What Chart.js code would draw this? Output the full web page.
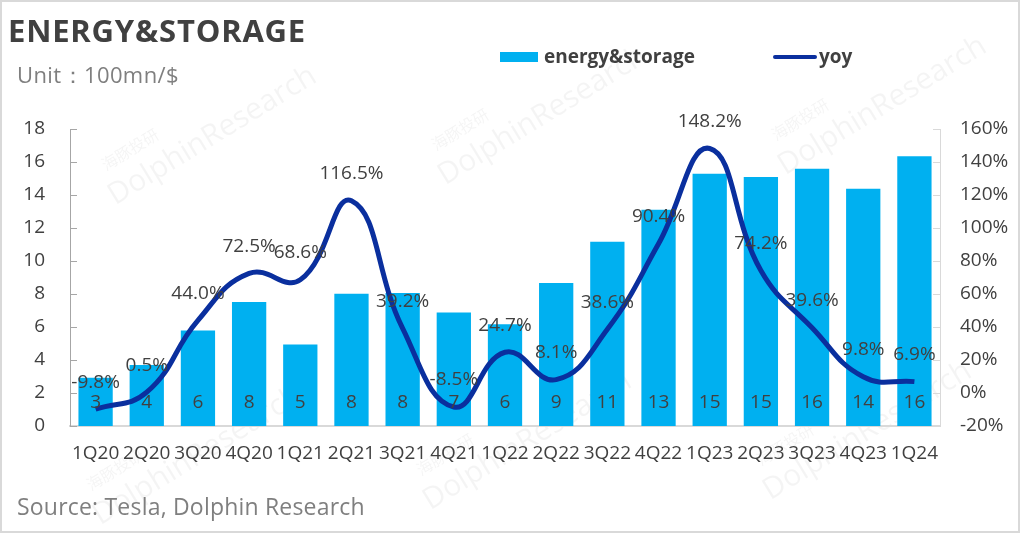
<!DOCTYPE html>
<html>
<head>
<meta charset="utf-8">
<script src="https://cdn.jsdelivr.net/npm/chart.js@4/dist/chart.umd.min.js"></script>
<style>
html,body{margin:0;padding:0;background:#fff;}
#wrap{position:relative;width:1020px;height:533px;overflow:hidden;font-family:"Open Sans","Noto Sans",sans-serif;}
#wrap:after{content:"";position:absolute;left:0;top:0;right:0;bottom:0;border:2px solid #d9d9d9;pointer-events:none;}
canvas{position:absolute;left:0;top:0;}
.t{position:absolute;white-space:nowrap;}
#title{left:8px;top:9px;font-size:31px;font-weight:700;color:#404040;letter-spacing:0.8px;}
#unit{left:17px;top:59px;font-size:22px;color:#7f7f7f;letter-spacing:0.4px;}
#source{left:17px;top:490px;font-size:23px;color:#7f7f7f;letter-spacing:0.2px;}
.lg{position:absolute;top:43px;font-size:19px;font-weight:700;color:#404040;}
</style>
</head>
<body>
<div id="wrap">
<canvas id="chart" width="1020" height="533"></canvas>
<div class="t" id="title">ENERGY&amp;STORAGE</div>
<div class="t" id="unit">Unit：100mn/$</div>
<div class="t" id="source">Source: Tesla, Dolphin Research</div>
<div style="position:absolute;left:500px;top:52px;width:38px;height:10px;background:#00b0f0"></div>
<div class="lg" style="left:544px">energy&amp;storage</div>
<div style="position:absolute;left:773px;top:55px;width:44px;height:4px;border-radius:2px;background:#0a2f9e"></div>
<div class="lg" style="left:819px">yoy</div>
</div>
<script>
/* ---------- DATA ---------- */

const quarters = ["1Q20","2Q20","3Q20","4Q20","1Q21","2Q21","3Q21","4Q21","1Q22","2Q22","3Q22","4Q22","1Q23","2Q23","3Q23","4Q23","1Q24"];
const revenue = [2.93,3.70,5.79,7.52,4.94,8.01,8.06,6.88,6.16,8.66,11.17,13.10,15.29,15.09,15.59,14.38,16.35];
const yoy = [-9.8,0.5,44.0,72.5,68.6,116.5,39.2,-8.5,24.7,8.1,38.6,90.4,148.2,74.2,39.6,9.8,6.9];
const leftTicks = [0,2,4,6,8,10,12,14,16,18];
const rightTicks = [-20,0,20,40,60,80,100,120,140,160];

const textColor = "#404040";
const fontFam = "'Open Sans','Noto Sans',sans-serif";

/* ---------- WATERMARK ---------- */

const watermark = {
id:"watermark",
beforeDraw(chart){
const c = chart.ctx;
const spots = [[175,150],[505,130],[845,120],[160,470],[490,455],[830,445]];
c.save();
c.fillStyle = "rgba(0,0,0,0.045)";
spots.forEach(s=>{
c.save();
c.translate(s[0],s[1]);
c.rotate(-0.55);
c.font = "16px 'Noto Sans CJK SC'";
c.fillText("海豚投研",-70,-18);
c.font = "30px "+fontFam;
c.fillText("DolphinResearch",-80,16);
c.restore();
});
c.restore();
}
};

/* ---------- AXIS TICKS + DATA LABELS ---------- */

const extras = {
id:"extras",
afterDatasetsDraw(chart){
const c = chart.ctx;
const area = chart.chartArea;
const yl = chart.scales.y, yr = chart.scales.y1;
c.save();
c.strokeStyle = "#a6a6a6";
c.lineWidth = 1;
yl.ticks.forEach(t=>{
const y = Math.round(yl.getPixelForValue(t.value))+0.5;
c.beginPath();c.moveTo(area.left,y);c.lineTo(area.left+7,y);c.stroke();
});
c.strokeStyle = "#d9d9d9";
yr.ticks.forEach(t=>{
const y = Math.round(yr.getPixelForValue(t.value))+0.5;
c.beginPath();c.moveTo(area.right,y);c.lineTo(area.right-7,y);c.stroke();
});

c.fillStyle = textColor;
c.font = "19px "+fontFam;
c.textAlign = "center";
c.textBaseline = "middle";
const bars = chart.getDatasetMeta(1).data;
bars.forEach((b,i)=>{
c.fillText(Math.round(revenue[i]),b.x,yl.getPixelForValue(0)-23);
});
const pts = chart.getDatasetMeta(0).data;
pts.forEach((p,i)=>{
c.fillText(yoy[i].toFixed(1)+"%",p.x,p.y-27);
});
c.restore();
}
};

/* ---------- CHART ---------- */

const ctx = document.getElementById("chart").getContext("2d");

new Chart(ctx,{
data:{
labels:quarters,
datasets:[
{
type:"line",
label:"yoy",
data:yoy,
yAxisID:"y1",
borderColor:"#0a2f9e",
borderWidth:5,
pointRadius:0,
tension:0.45,
fill:false,
order:0
},
{
type:"bar",
label:"energy&storage",
data:revenue,
yAxisID:"y",
backgroundColor:"#00b0f0",
barPercentage:0.67,
categoryPercentage:1,
order:1
}
]
},
options:{
responsive:false,
animation:false,
layout:{padding:{top:129,left:0,right:0,bottom:0}},
plugins:{legend:{display:false},tooltip:{enabled:false}},
scales:{
x:{
grid:{display:false,drawTicks:false},
border:{color:"#d9d9d9",width:2},
ticks:{color:textColor,font:{size:19,family:fontFam},padding:16,maxRotation:0,autoSkip:false},
afterFit(s){s.height=107;}
},
y:{
position:"left",
min:0,max:18,
afterBuildTicks(s){s.ticks=leftTicks.map(v=>({value:v}));},
grid:{display:false,drawTicks:false},
border:{color:"#a6a6a6",width:1},
ticks:{color:textColor,font:{size:19,family:fontFam},padding:25},
afterFit(s){s.width=70;}
},
y1:{
position:"right",
min:-20,max:160,
afterBuildTicks(s){s.ticks=rightTicks.map(v=>({value:v}));},
grid:{display:false,drawTicks:false},
border:{color:"#d9d9d9",width:1},
ticks:{color:textColor,font:{size:19,family:fontFam},padding:20,callback:v=>v+"%"},
afterFit(s){s.width=80;}
}
}
},
plugins:[watermark,extras]
});
</script>
</body>
</html>
